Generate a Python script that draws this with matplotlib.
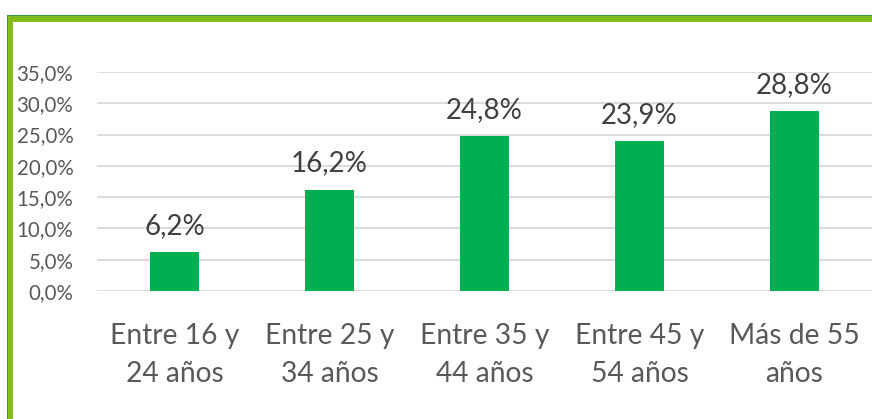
import matplotlib
matplotlib.use("Agg")
import matplotlib.pyplot as plt
from matplotlib.patches import Rectangle
from matplotlib.ticker import FuncFormatter, MultipleLocator

categories = ["Entre 16 y\n24 años", "Entre 25 y\n34 años", "Entre 35 y\n44 años",
              "Entre 45 y\n54 años", "Más de 55\naños"]
values = [6.2, 16.2, 24.8, 23.9, 28.8]

plt.rcParams['font.family'] = ['Lato', 'DejaVu Sans']

W, H = 872, 419
fig = plt.figure(figsize=(W/100, H/100), dpi=100)
ax = fig.add_axes([97/W, 1-291/H, (872-97)/W, (291-72)/H])

x = list(range(len(categories)))
bars = ax.bar(x, values, width=0.31, color="#00B050", zorder=3)
ax.set_xlim(-0.5, len(categories)-0.5)
ax.set_ylim(0, 35)
ax.yaxis.set_major_locator(MultipleLocator(5))
ax.yaxis.set_major_formatter(FuncFormatter(lambda v, p: f"{v:.1f}%".replace(".", ",")))
ax.grid(axis="y", color="#D9D9D9", linewidth=1.3, zorder=0)
for s in ax.spines.values():
    s.set_visible(False)
ax.tick_params(axis="y", length=0, pad=17, labelsize=14.8, labelcolor="#595959")
ax.tick_params(axis="x", length=0, pad=23, labelsize=20.3, labelcolor="#595959")
ax.set_xticks(x)
ax.set_xticklabels(categories, linespacing=1.58)
for lab in ax.get_xticklabels():
    lab.set_horizontalalignment("center")

for xi, v in zip(x, values):
    ax.annotate(f"{v:.1f}%".replace(".", ","), (xi, v), xytext=(0, 9.5),
                textcoords="offset points", ha="center", va="bottom",
                fontsize=20, color="#404040")

# green frame
fig.patches.append(Rectangle((7/W, 0), 6/W, (H-15)/H, transform=fig.transFigure,
                             facecolor="#84BC1E", edgecolor="none"))
fig.patches.append(Rectangle((7/W, 1-22/H), (W-7)/W, 7/H, transform=fig.transFigure,
                             facecolor="#84BC1E", edgecolor="none"))
fig.patches.append(Rectangle((7/W, 1-16/H), (W-7)/W, 1.2/H, transform=fig.transFigure,
                             facecolor="#2EA043", edgecolor="none"))
fig.patches.append(Rectangle((7/W, 0), 1.2/W, (H-15)/H, transform=fig.transFigure,
                             facecolor="#2EA043", edgecolor="none"))

fig.savefig("out.png", dpi=100)
